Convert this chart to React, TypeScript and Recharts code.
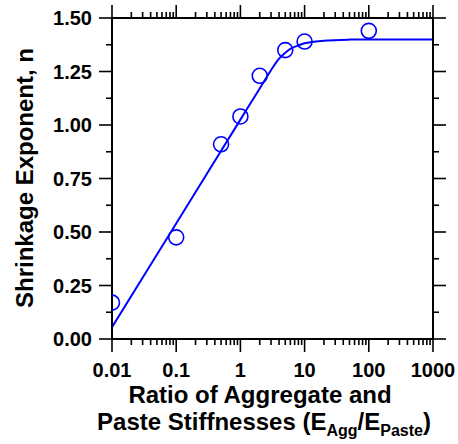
import { ComposedChart, XAxis, YAxis, Line, Scatter } from 'recharts'

// measured points
const ratio = [0.01, 0.1, 0.5, 1, 2, 5, 10, 100]
const exponent = [0.17, 0.475, 0.91, 1.04, 1.23, 1.35, 1.39, 1.44]

// fitted curve
const fitRatio = [0.01, 0.1, 1, 2, 3, 4, 5, 6, 8, 10, 20, 50, 100, 1000]
const fitExponent = [0.055, 0.54, 1.025, 1.171, 1.256, 1.31, 1.338, 1.356, 1.372, 1.382, 1.394, 1.399, 1.4, 1.4]

const xMajor = [0.01, 0.1, 1, 10, 100, 1000]
const yTicks = [0, 0.125, 0.25, 0.375, 0.5, 0.625, 0.75, 0.875, 1, 1.125, 1.25, 1.375, 1.5]

const xTicks: number[] = []
xMajor.forEach((m, i) => {
  xTicks.push(m)
  if (i < xMajor.length - 1) for (let k = 2; k <= 9; k++) xTicks.push(+(m * k).toPrecision(3))
})

const points = ratio.map((x, i) => ({ x, y: exponent[i] }))
const fit = fitRatio.map((x, i) => ({ x, y: fitExponent[i] }))

const FONT = '"Liberation Sans", Arial, sans-serif'
const BLUE = '#0000ff'

const isDecade = (v: number) => Math.abs(Math.log10(v) - Math.round(Math.log10(v))) < 1e-6
const isQuarter = (v: number) => Math.abs(v / 0.25 - Math.round(v / 0.25)) < 1e-6

const BottomTick = ({ x, y, payload }: any) => {
  const major = isDecade(payload.value)
  return (
    <g>
      <line x1={x} x2={x} y1={y} y2={y + (major ? 13 : 6)} stroke="#000" strokeWidth={1.6} />
      {major && (
        <text x={x} y={y + 38} textAnchor="middle" fontFamily={FONT} fontWeight="bold" fontSize={20} fill="#000">
          {payload.value}
        </text>
      )}
    </g>
  )
}

const TopTick = ({ x, y, payload }: any) => {
  const major = isDecade(payload.value)
  return <line x1={x} x2={x} y1={y} y2={y - (major ? 13 : 6)} stroke="#000" strokeWidth={1.6} />
}

const LeftTick = ({ x, y, payload }: any) => {
  const major = isQuarter(payload.value)
  return (
    <g>
      <line x1={x - (major ? 13 : 6)} x2={x} y1={y} y2={y} stroke="#000" strokeWidth={1.6} />
      {major && (
        <text x={x - 20} y={y + 7} textAnchor="end" fontFamily={FONT} fontWeight="bold" fontSize={20} fill="#000">
          {payload.value.toFixed(2)}
        </text>
      )}
    </g>
  )
}

const RightTick = ({ x, y, payload }: any) => {
  const major = isQuarter(payload.value)
  return <line x1={x} x2={x + (major ? 13 : 6)} y1={y} y2={y} stroke="#000" strokeWidth={1.6} />
}

const XTitle = () => (
  <text fontFamily={FONT} fontWeight="bold" fontSize={24} fill="#000" textAnchor="middle">
    <tspan x={260} y={403}>Ratio of Aggregate and</tspan>
    <tspan x={264} y={430}>
      Paste Stiffnesses (E<tspan dy={6} fontSize={16}>Agg</tspan>
      <tspan dy={-6}>/E</tspan>
      <tspan dy={6} fontSize={16}>Paste</tspan>
      <tspan dy={-6}>)</tspan>
    </tspan>
  </text>
)

const YTitle = () => (
  <text
    x={33}
    y={178}
    transform="rotate(-90 33 178)"
    textAnchor="middle"
    fontFamily={FONT}
    fontWeight="bold"
    fontSize={24}
    fill="#000"
  >
    Shrinkage Exponent, n
  </text>
)

const Dot = ({ cx, cy }: any) => <circle cx={cx} cy={cy} r={7.5} fill="none" stroke={BLUE} strokeWidth={1.6} />

export default function App() {
  const axisLine = { stroke: '#000', strokeWidth: 2 }
  return (
    <div style={{ position: 'absolute', left: 0, top: 0, width: 458, height: 444, background: '#fff' }}>
      <ComposedChart width={458} height={444} margin={{ top: 0, right: 0, bottom: 0, left: 0 }}>
        <XAxis
          xAxisId="b"
          dataKey="x"
          type="number"
          scale="log"
          domain={[0.01, 1000]}
          allowDataOverflow
          ticks={xTicks}
          interval={0}
          height={105}
          tickSize={0}
          tickMargin={0}
          tickLine={false}
          axisLine={axisLine}
          tick={<BottomTick />}
          label={<XTitle />}
        />
        <XAxis
          xAxisId="t"
          orientation="top"
          dataKey="x"
          type="number"
          scale="log"
          domain={[0.01, 1000]}
          allowDataOverflow
          ticks={xTicks}
          interval={0}
          height={18}
          tickSize={0}
          tickMargin={0}
          tickLine={false}
          axisLine={axisLine}
          tick={<TopTick />}
        />
        <YAxis
          yAxisId="l"
          type="number"
          domain={[0, 1.5]}
          allowDataOverflow
          ticks={yTicks}
          interval={0}
          width={112}
          tickSize={0}
          tickMargin={0}
          tickLine={false}
          axisLine={axisLine}
          tick={<LeftTick />}
          label={<YTitle />}
        />
        <YAxis
          yAxisId="r"
          orientation="right"
          type="number"
          domain={[0, 1.5]}
          allowDataOverflow
          ticks={yTicks}
          interval={0}
          width={25}
          tickSize={0}
          tickMargin={0}
          tickLine={false}
          axisLine={axisLine}
          tick={<RightTick />}
        />
        <Line
          xAxisId="b"
          yAxisId="l"
          data={fit}
          dataKey="y"
          type="monotone"
          stroke={BLUE}
          strokeWidth={2}
          dot={false}
          isAnimationActive={false}
        />
        <Scatter
          xAxisId="b"
          yAxisId="l"
          data={points}
          dataKey="y"
          shape={<Dot />}
          isAnimationActive={false}
        />
        <Line
          xAxisId="t"
          yAxisId="r"
          data={fit}
          dataKey="y"
          stroke="none"
          dot={false}
          activeDot={false}
          isAnimationActive={false}
        />
      </ComposedChart>
    </div>
  )
}
